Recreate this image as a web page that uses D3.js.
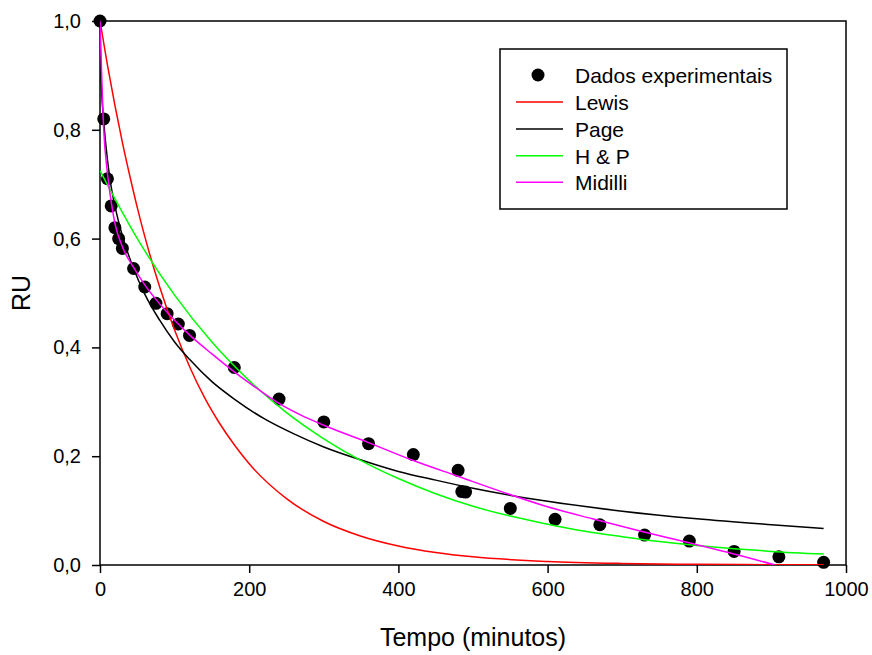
<!DOCTYPE html>
<html>
<head>
<meta charset="utf-8">
<script src="https://cdn.jsdelivr.net/npm/d3@7"></script>
<style>
  html, body { margin: 0; padding: 0; background: #ffffff; }
  svg { display: block; font-family: "Liberation Sans", Arial, Helvetica, sans-serif; }
</style>
</head>
<body>
<svg id="chart" width="872" height="655"></svg>
<script>
// ---- Experimental data ----
const times = [0,5,10,15,20,25,30,45,60,75,90,105,120,180,240,300,360,420,480,485,490,550,610,670,730,790,850,910,970];
const ruExp = [1.0,0.82,0.71,0.66,0.62,0.60,0.582,0.545,0.511,0.481,0.462,0.443,0.422,0.363,0.305,0.263,0.223,0.203,0.174,0.135,0.134,0.104,0.084,0.074,0.055,0.044,0.025,0.015,0.005];

// ---- Model curves ----
const lewisT  = [0,10,20,30,40,50,60,80,100,120,140,160,180,200,250,300,350,400,450,500,600,700,800,900,970];
const lewisRU = [1,0.919,0.845,0.777,0.715,0.657,0.604,0.511,0.432,0.365,0.308,0.261,0.221,0.186,0.122,0.080,0.053,0.035,0.023,0.015,0.0065,0.0028,0.0012,0.0005,0.0003];

const pageT  = [0,1,2,5,10,15,20,30,45,60,80,100,120,150,180,220,260,300,350,400,450,500,600,700,800,900,970];
const pageRU = [1,0.91,0.875,0.815,0.745,0.695,0.66,0.605,0.545,0.498,0.450,0.410,0.378,0.337,0.305,0.269,0.241,0.217,0.193,0.172,0.156,0.141,0.117,0.099,0.085,0.074,0.067];

const hpT  = [0,50,100,150,200,250,300,350,400,450,500,550,600,650,700,750,800,850,900,970];
const hpRU = [0.725,0.600,0.496,0.410,0.339,0.280,0.232,0.192,0.159,0.131,0.108,0.090,0.075,0.062,0.052,0.043,0.036,0.030,0.025,0.020];

const midT  = [0,5,10,15,20,30,45,60,80,100,120,150,180,210,240,270,300,360,420,480,540,600,660,720,780,840,905];
const midRU = [1,0.80,0.72,0.668,0.628,0.585,0.547,0.515,0.48,0.45,0.423,0.388,0.355,0.325,0.297,0.275,0.257,0.225,0.192,0.163,0.134,0.107,0.085,0.064,0.044,0.024,0];

// ---- Ticks / labels ----
const xTicks = [0,200,400,600,800,1000];
const yTicks = [0,0.2,0.4,0.6,0.8,1.0];
const seriesNames = ["Lewis","Page","H & P","Midilli"];
const seriesColors = ["#ff0000","#000000","#00ff00","#ff00ff"];
const dataLabel = "Dados experimentais";
const xTitle = "Tempo (minutos)";
const yTitle = "RU";

// ---- Layout ----
const L = 100, R = 846, T = 21, B = 565;
const svg = d3.select("#chart");
const x = d3.scaleLinear().domain([0,1000]).range([L,R]);
const y = d3.scaleLinear().domain([0,1]).range([B,T]);

svg.append("defs").append("clipPath").attr("id","plotclip")
  .append("rect").attr("x",L).attr("y",T).attr("width",R-L).attr("height",B-T);

const fmt = d => d.toFixed(1).replace(".", ",");

// Axes
const xAxis = d3.axisBottom(x).tickValues(xTicks).tickSize(8).tickPadding(9).tickFormat(d3.format("d"));
const yAxis = d3.axisLeft(y).tickValues(yTicks).tickSize(8).tickPadding(11).tickFormat(fmt);

const gx = svg.append("g").attr("transform",`translate(0,${B})`).call(xAxis);
const gy = svg.append("g").attr("transform",`translate(${L},0)`).call(yAxis);
[gx,gy].forEach(g => {
  g.select(".domain").remove();
  g.selectAll(".tick line").attr("stroke","#000").attr("stroke-width",1.5);
  g.selectAll(".tick text").attr("fill","#000").style("font-size","20px")
    .style("font-family",'"Liberation Sans", Arial, sans-serif');
});

// Frame
svg.append("rect").attr("x",L).attr("y",T).attr("width",R-L).attr("height",B-T)
  .attr("fill","none").attr("stroke","#000").attr("stroke-width",1.5);

// Points
const plot = svg.append("g").attr("clip-path","url(#plotclip)");
const pts = svg.append("g");
pts.selectAll("circle").data(times.map((t,i)=>[t,ruExp[i]])).enter().append("circle")
  .attr("cx",d=>x(d[0])).attr("cy",d=>y(d[1])).attr("r",6.5).attr("fill","#000");

// Lines
const line = d3.line().x(d=>x(d[0])).y(d=>y(d[1])).curve(d3.curveMonotoneX);
const curves = [
  [lewisT, lewisRU],
  [pageT, pageRU],
  [hpT, hpRU],
  [midT, midRU]
];
const lineLayer = svg.append("g").attr("clip-path","url(#plotclip)");
curves.forEach((c,i) => {
  lineLayer.append("path").datum(c[0].map((t,j)=>[t,c[1][j]]))
    .attr("d",line).attr("fill","none").attr("stroke",seriesColors[i]).attr("stroke-width",1.5);
});

// Legend
const lg = svg.append("g");
lg.append("rect").attr("x",500).attr("y",49).attr("width",287).attr("height",160)
  .attr("fill","#fff").attr("stroke","#000").attr("stroke-width",1.5);
const rowY = [75,102,129,155.7,182.3];
lg.append("circle").attr("cx",538).attr("cy",rowY[0]).attr("r",6.5).attr("fill","#000");
lg.append("text").attr("x",575).attr("y",rowY[0]+8).text(dataLabel)
  .style("font-size","21px").attr("fill","#000");
seriesNames.forEach((n,i) => {
  const yy = rowY[i+1];
  lg.append("line").attr("x1",516).attr("x2",563).attr("y1",yy).attr("y2",yy)
    .attr("stroke",seriesColors[i]).attr("stroke-width",1.5);
  lg.append("text").attr("x",575).attr("y",yy+8).text(n)
    .style("font-size","21px").attr("fill","#000");
});

// Axis titles
svg.append("text").attr("x",(L+R)/2).attr("y",646).attr("text-anchor","middle")
  .style("font-size","25px").attr("fill","#000").text(xTitle);
svg.append("text").attr("transform",`translate(30,${(T+B)/2}) rotate(-90)`)
  .attr("text-anchor","middle").style("font-size","25px").attr("fill","#000").text(yTitle);
</script>
</body>
</html>
